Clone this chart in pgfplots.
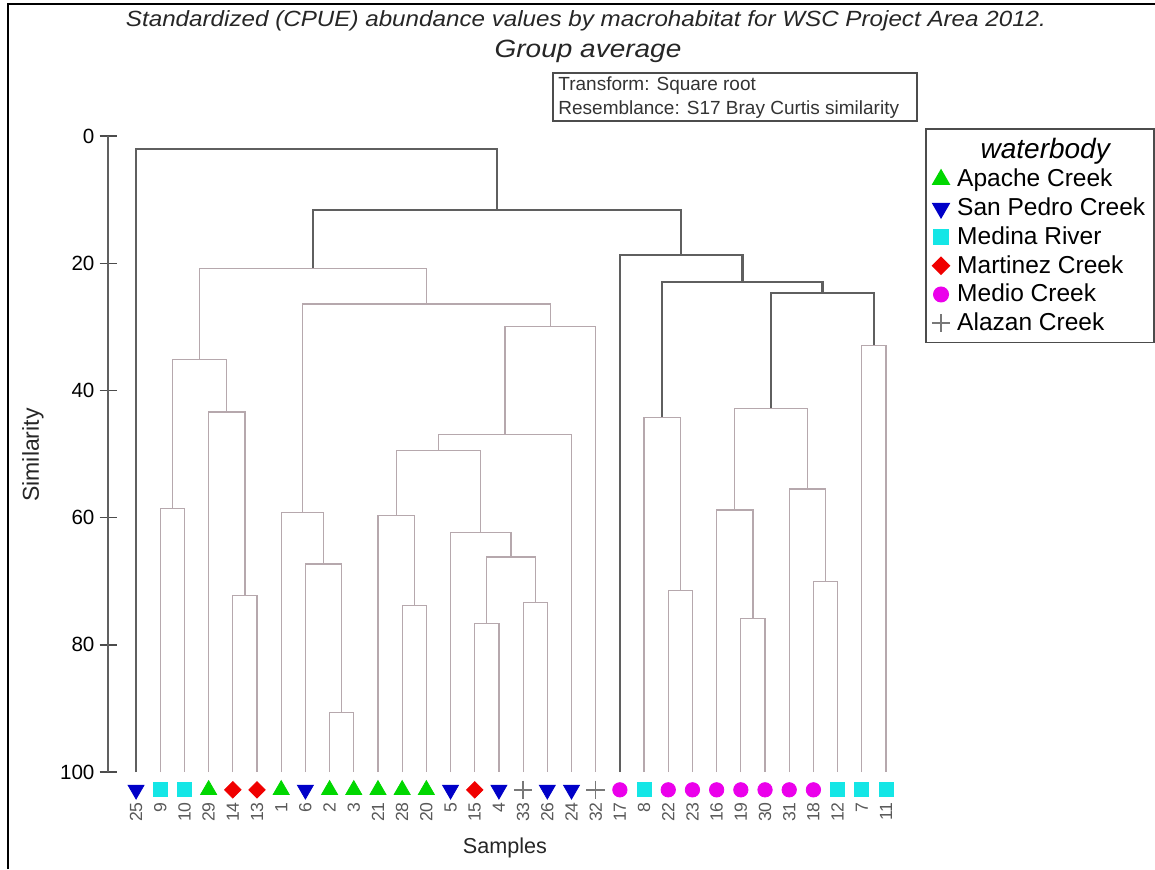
\documentclass[border=0pt]{standalone}
\usepackage{fontspec}
\setmainfont{Liberation Sans}
\usepackage{pgfplots}
\pgfplotsset{compat=1.18}
\definecolor{apache}{RGB}{0,215,0}
\definecolor{sanpedro}{RGB}{0,0,200}
\definecolor{medina}{RGB}{20,230,230}
\definecolor{martinez}{RGB}{240,0,0}
\definecolor{medio}{RGB}{235,0,235}
\definecolor{alazan}{RGB}{120,120,120}
\definecolor{sigc}{RGB}{95,95,95}
\definecolor{nsc}{RGB}{182,168,173}
\pgfplotsset{
  sig/.style={color=sigc, line width=1.15pt, line join=miter, forget plot},
  ns/.style={color=nsc, line width=0.6pt, line join=miter, forget plot}
}
\begin{document}
\begin{tikzpicture}
\path[use as bounding box] (0,0) rectangle (577.5pt,-434.5pt);
\draw[black, line width=1pt] (4pt,-434.5pt) -- (4pt,-2pt) -- (577.5pt,-2pt);
\begin{axis}[
  at={(54pt,-68pt)}, anchor=north west,
  scale only axis, width=399.15pt, height=318pt,
  xmin=-1.16, xmax=31.84, ymin=0, ymax=100, y dir=reverse,
  axis x line=none, axis y line=left,
  y axis line style={-, gray!75!black, line width=1pt},
  ytick={0,20,40,60,80,100},
  tick align=center, major tick length=8.5pt,
  y tick style={gray!60!black, line width=0.7pt},
  yticklabel style={font=\fontsize{10.3}{12}\selectfont, black, xshift=1pt},
  /pgf/number format/assume math mode=true,
  clip=false,
  legend style={at={(axis description cs:1.0234,1.0126)}, anchor=north west,
    draw=gray!60!black, line width=0.8pt, font=\fontsize{12.25}{15.1}\selectfont,
    inner sep=2.5pt, row sep=0pt, column sep=1.5pt},
  legend cell align=left,
  legend image code/.code={\draw[mark repeat=2,mark phase=2,#1] plot coordinates {(0cm,0cm) (0.18cm,0cm) (0.36cm,0cm)};},
]
% ---- dendrogram links (x = leaf position, y = similarity) ----
\addplot[sig] coordinates {(0,100) (0,2.0) (14.921875,2.0) (14.921875,11.6)};
\addplot[sig] coordinates {(7.3125,20.8) (7.3125,11.6) (22.53125,11.6) (22.53125,18.7)};
\addplot[sig] coordinates {(20,100) (20,18.7) (25.0625,18.7) (25.0625,23.0)};
\addplot[sig] coordinates {(21.75,44.2) (21.75,23.0) (28.375,23.0) (28.375,24.7)};
\addplot[sig] coordinates {(26.25,42.8) (26.25,24.7) (30.5,24.7) (30.5,32.9)};
% left group
\addplot[ns] coordinates {(2.625,35.2) (2.625,20.8) (12.0,20.8) (12.0,26.4)};
\addplot[ns] coordinates {(1.5,58.6) (1.5,35.2) (3.75,35.2) (3.75,43.4)};
\addplot[ns] coordinates {(1,100) (1,58.6) (2,58.6) (2,100)};
\addplot[ns] coordinates {(3,100) (3,43.4) (4.5,43.4) (4.5,72.3)};
\addplot[ns] coordinates {(4,100) (4,72.3) (5,72.3) (5,100)};
\addplot[ns] coordinates {(6.875,59.2) (6.875,26.4) (17.125,26.4) (17.125,30.0)};
\addplot[ns] coordinates {(6,100) (6,59.2) (7.75,59.2) (7.75,67.3)};
\addplot[ns] coordinates {(7,100) (7,67.3) (8.5,67.3) (8.5,90.7)};
\addplot[ns] coordinates {(8,100) (8,90.7) (9,90.7) (9,100)};
\addplot[ns] coordinates {(15.25,46.9) (15.25,30.0) (19,30.0) (19,100)};
\addplot[ns] coordinates {(12.5,49.4) (12.5,46.9) (18,46.9) (18,100)};
\addplot[ns] coordinates {(10.75,59.7) (10.75,49.4) (14.25,49.4) (14.25,62.4)};
\addplot[ns] coordinates {(10,100) (10,59.7) (11.5,59.7) (11.5,73.8)};
\addplot[ns] coordinates {(11,100) (11,73.8) (12,73.8) (12,100)};
\addplot[ns] coordinates {(13,100) (13,62.4) (15.5,62.4) (15.5,66.2)};
\addplot[ns] coordinates {(14.5,76.7) (14.5,66.2) (16.5,66.2) (16.5,73.4)};
\addplot[ns] coordinates {(14,100) (14,76.7) (15,76.7) (15,100)};
\addplot[ns] coordinates {(16,100) (16,73.4) (17,73.4) (17,100)};
% right group
\addplot[ns] coordinates {(21,100) (21,44.2) (22.5,44.2) (22.5,71.4)};
\addplot[ns] coordinates {(22,100) (22,71.4) (23,71.4) (23,100)};
\addplot[ns] coordinates {(24.75,58.8) (24.75,42.8) (27.75,42.8) (27.75,55.5)};
\addplot[ns] coordinates {(24,100) (24,58.8) (25.5,58.8) (25.5,75.9)};
\addplot[ns] coordinates {(25,100) (25,75.9) (26,75.9) (26,100)};
\addplot[ns] coordinates {(27,100) (27,55.5) (28.5,55.5) (28.5,70.0)};
\addplot[ns] coordinates {(28,100) (28,70.0) (29,70.0) (29,100)};
\addplot[ns] coordinates {(30,100) (30,32.9) (31,32.9) (31,100)};
% ---- sample labels ----
\addplot[draw=none, mark=none, forget plot, nodes near coords, point meta=explicit symbolic,
  nodes near coords style={rotate=90, anchor=east, inner sep=0pt, black!65,
    font=\fontsize{8.8}{10}\selectfont}]
  table[meta=label] {
x y label
0 104.7 25
1 104.7 9
2 104.7 10
3 104.7 29
4 104.7 14
5 104.7 13
6 104.7 1
7 104.7 6
8 104.7 2
9 104.7 3
10 104.7 21
11 104.7 28
12 104.7 20
13 104.7 5
14 104.7 15
15 104.7 4
16 104.7 33
17 104.7 26
18 104.7 24
19 104.7 32
20 104.7 17
21 104.7 8
22 104.7 22
23 104.7 23
24 104.7 16
25 104.7 19
26 104.7 30
27 104.7 31
28 104.7 18
29 104.7 12
30 104.7 7
31 104.7 11
};
% ---- legend title ----
\addlegendimage{empty legend}
\addlegendentry{\makebox[88pt][c]{\fontsize{14}{16}\selectfont\itshape waterbody}}
% ---- sample symbols ----
\addplot[only marks, mark=triangle*, mark size=4.6pt, draw=apache, fill=apache] coordinates {
(3,102.8) (6,102.8) (8,102.8) (9,102.8) (10,102.8) (11,102.8) (12,102.8)};
\addlegendentry{Apache Creek}
\addplot[only marks, mark=triangle*, mark size=4.6pt, draw=sanpedro, fill=sanpedro, mark options={rotate=180}] coordinates {
(0,102.8) (7,102.8) (13,102.8) (15,102.8) (17,102.8) (18,102.8)};
\addlegendentry{San Pedro Creek}
\addplot[only marks, mark=square*, mark size=3.5pt, draw=medina, fill=medina] coordinates {
(1,102.8) (2,102.8) (21,102.8) (29,102.8) (30,102.8) (31,102.8)};
\addlegendentry{Medina River}
\addplot[only marks, mark=square*, mark size=2.9pt, draw=martinez, fill=martinez, mark options={rotate=45}] coordinates {
(4,102.8) (5,102.8) (14,102.8)};
\addlegendentry{Martinez Creek}
\addplot[only marks, mark=*, mark size=3.6pt, draw=medio, fill=medio] coordinates {
(20,102.8) (22,102.8) (23,102.8) (24,102.8) (25,102.8) (26,102.8) (27,102.8) (28,102.8)};
\addlegendentry{Medio Creek}
\addplot[only marks, mark=+, mark size=4.6pt, draw=alazan, line width=0.8pt] coordinates {
(16,102.8) (19,102.8)};
\addlegendentry{Alazan Creek}
\end{axis}
\begin{scope}[x=0.5pt,y=-0.5pt]
\node[anchor=base, black!85, font=\fontsize{11}{13}\selectfont\itshape] at (586,26)
  {\scalebox{1.1}[1]{Standardized (CPUE) abundance values by macrohabitat for WSC Project Area 2012.}};
\node[anchor=base, black!85, font=\fontsize{12.5}{15}\selectfont\itshape] at (588,57)
  {\scalebox{1.12}[1]{Group average}};
\draw[gray!60!black, line width=0.8pt] (553,73) rectangle (917,121);
\node[anchor=base west, inner sep=0pt, black!80, font=\fontsize{9.5}{11}\selectfont] at (558,90) {Transform: Square root};
\node[anchor=base west, inner sep=0pt, black!80, font=\fontsize{9.5}{11}\selectfont] at (558,114) {Resemblance: S17 Bray Curtis similarity};
\node[rotate=90, black!85, font=\fontsize{11.5}{13}\selectfont] at (33,455) {Similarity};
\node[black!85, font=\fontsize{10.8}{12}\selectfont] at (505,848) {Samples};
\end{scope}
\end{tikzpicture}
\end{document}
